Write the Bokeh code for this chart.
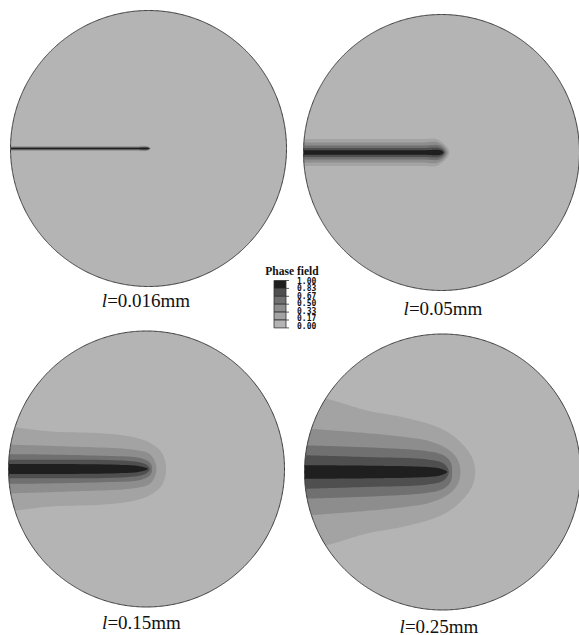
import numpy as np
from bokeh.plotting import figure
from bokeh.models import Range1d
from bokeh.embed import file_html
from bokeh.resources import INLINE
from bokeh.core.properties import value

# ---------------------------------------------------------------- data
length_scales = ["0.016", "0.05", "0.15", "0.25"]          # l in mm, one panel each
legend_ticks = ["1.00", "0.83", "0.67", "0.50", "0.33", "0.17", "0.00"]
# fill for the phase-field bands 0-0.17, 0.17-0.33, ..., 0.83-1.00
band_colors = ["#b4b4b4", "#a3a3a3", "#8d8d8d", "#707070", "#4f4f4f", "#1f1f1f"]

# Upper half of each contour (levels 0.17, 0.33, 0.50, 0.67, 0.83):
# x along the crack (unit disc radius, crack tip at x = 0), half-width h,
# and where the contour closes in front of the tip.
x_l016 = [[-1.0, -0.1, -0.010], [-1.0, -0.1, -0.008], [-1.0, -0.1, -0.006],
          [-1.0, -0.1, -0.004], [-1.0, -0.1, -0.002]]
h_l016 = [[0.018, 0.018, 0.018], [0.014, 0.014, 0.014], [0.010, 0.010, 0.010],
          [0.007, 0.007, 0.007], [0.004, 0.004, 0.004]]
tip_l016 = [0.016, 0.013, 0.011, 0.009, 0.007]

x_l005 = [[-1.0, -0.15, -0.030], [-1.0, -0.15, -0.020], [-1.0, -0.15, -0.012],
          [-1.0, -0.15, -0.008], [-1.0, -0.15, -0.006]]
h_l005 = [[0.097, 0.097, 0.095], [0.072, 0.072, 0.071], [0.050, 0.050, 0.049],
          [0.032, 0.032, 0.031], [0.016, 0.016, 0.016]]
tip_l005 = [0.058, 0.045, 0.032, 0.022, 0.014]

x_l015 = [[-1.0, -0.69, -0.331, -0.091, 0.029, 0.113],
          [-1.0, -0.571, -0.091, 0.029],
          [-1.0, -0.331, -0.043, 0.027],
          [-1.0, -0.091, 0.0],
          [-1.0, -0.211, -0.043]]
h_l015 = [[0.305, 0.271, 0.259, 0.230, 0.187, 0.115],
          [0.176, 0.163, 0.139, 0.103],
          [0.108, 0.096, 0.079, 0.043],
          [0.067, 0.055, 0.031],
          [0.036, 0.031, 0.019]]
tip_l015 = [0.142, 0.072, 0.041, 0.024, 0.009]

x_l025 = [[-1.0, -0.83, -0.542, -0.302, -0.062, 0.058, 0.153, 0.213],
          [-1.0, -0.782, -0.542, -0.302, -0.11, 0.034, 0.106],
          [-1.0, -0.782, -0.422, -0.11, 0.010, 0.058],
          [-1.0, -0.542, -0.11, 0.010],
          [-1.0, -0.542, -0.11, -0.014]]
h_l025 = [[0.560, 0.528, 0.444, 0.400, 0.336, 0.276, 0.192, 0.108],
          [0.315, 0.300, 0.281, 0.257, 0.228, 0.168, 0.096],
          [0.193, 0.187, 0.173, 0.151, 0.120, 0.072],
          [0.121, 0.108, 0.091, 0.060],
          [0.049, 0.046, 0.036, 0.024]]
tip_l025 = [0.237, 0.130, 0.070, 0.046, 0.034]

# ---------------------------------------------------------------- layout
W, H = 579, 635
RADIUS = 138.0
CAP_FS = 19          # caption font size, px
CAP_SHIFT = 7.5      # baseline correction for the caption text box
panels = [
    # centre of the disc, profiles, caption centre x, caption baseline y
    dict(cx=148.0, cy=148.0, xs=x_l016, hs=h_l016, tips=tip_l016, lx=145.5, ly=307.5),
    dict(cx=441.0, cy=152.0, xs=x_l005, hs=h_l005, tips=tip_l005, lx=442.5, ly=315.0),
    dict(cx=146.0, cy=468.5, xs=x_l015, hs=h_l015, tips=tip_l015, lx=141.0, ly=629.5),
    dict(cx=442.0, cy=471.5, xs=x_l025, hs=h_l025, tips=tip_l025, lx=438.5, ly=633.0),
]

p = figure(width=W, height=H, x_range=Range1d(0, W), y_range=Range1d(H, 0),
           x_axis_type=None, y_axis_type=None, min_border=0,
           toolbar_location=None, output_backend="svg")
p.grid.visible = False
p.outline_line_color = None
p.background_fill_color = "white"
p.border_fill_color = "white"


def cr_segment(p0, p1, p2, p3, n=14):
    """Centripetal Catmull-Rom piece between p1 and p2."""
    def knot(ti, a, b):
        return ti + max(np.hypot(*(b - a)), 1e-9) ** 0.5
    t0 = 0.0
    t1 = knot(t0, p0, p1)
    t2 = knot(t1, p1, p2)
    t3 = knot(t2, p2, p3)
    t = np.linspace(t1, t2, n, endpoint=False)[:, None]
    a1 = (t1 - t) / (t1 - t0) * p0 + (t - t0) / (t1 - t0) * p1
    a2 = (t2 - t) / (t2 - t1) * p1 + (t - t1) / (t2 - t1) * p2
    a3 = (t3 - t) / (t3 - t2) * p2 + (t - t2) / (t3 - t2) * p3
    b1 = (t2 - t) / (t2 - t0) * a1 + (t - t0) / (t2 - t0) * a2
    b2 = (t3 - t) / (t3 - t1) * a2 + (t - t1) / (t3 - t1) * a3
    return (t2 - t) / (t2 - t1) * b1 + (t - t1) / (t2 - t1) * b2


def contour_outline(xs, hs, tip, cx, cy, r):
    """Smooth closed outline of one contour: upper profile, front at the tip, lower profile."""
    upper = [(x, h) for x, h in zip(xs, hs)]
    pts = [(-1.25, hs[0])] + upper + [(tip, 0.0)] + [(x, -h) for x, h in upper[::-1]] + [(-1.25, -hs[0])]
    pts = np.array(pts, float)
    pieces = [cr_segment(pts[i - 1], pts[i], pts[i + 1], pts[i + 2]) for i in range(1, len(pts) - 2)]
    curve = np.vstack(pieces + [pts[-2][None, :]])
    return cx + r * curve[:, 0], cy - r * curve[:, 1]


theta = np.linspace(0, 2 * np.pi, 721)
for pn in panels:
    cx, cy, r = pn["cx"], pn["cy"], RADIUS
    # disc in the background colour (lowest band)
    p.patch(cx + r * np.cos(theta), cy - r * np.sin(theta),
            fill_color=band_colors[0], line_color=None)
    # bands, outermost first
    for k in range(5):
        bx, by = contour_outline(pn["xs"][k], pn["hs"][k], pn["tips"][k], cx, cy, r)
        p.patch(bx, by, fill_color=band_colors[k + 1], line_color=None)
    # white cover for whatever runs past the left rim (bands stop at x = -r)
    th = np.linspace(np.pi / 2, 3 * np.pi / 2, 361)
    m = 3.0
    mx = np.concatenate([[cx - r - m, cx], cx + r * np.cos(th), [cx, cx - r - m]])
    my = np.concatenate([[cy - r - m, cy - r - m], cy - r * np.sin(th), [cy + r + m, cy + r + m]])
    p.patch(mx, my, fill_color="white", line_color=None)
    # rim
    p.line(cx + r * np.cos(theta), cy - r * np.sin(theta), line_color="#3a3a3a", line_width=1)

# panel captions: italic l followed by the value
w_l = 0.278 * CAP_FS
for pn, ls in zip(panels, length_scales):
    rest = "=" + ls + "mm"
    w_rest = CAP_FS * (0.564 + 0.5 * sum(ch.isdigit() for ch in ls) + 0.25 + 2 * 0.778)
    x0 = pn["lx"] - (w_l + w_rest) / 2 + w_l
    y0 = pn["ly"] - CAP_SHIFT
    p.text(x=[x0], y=[y0], text=["l"], text_align="right", text_baseline="alphabetic",
           text_font=value("Liberation Serif"), text_font_style="italic",
           text_font_size=f"{CAP_FS}px", text_color="#111111")
    p.text(x=[x0], y=[y0], text=[rest], text_align="left", text_baseline="alphabetic",
           text_font=value("Liberation Serif"), text_font_size=f"{CAP_FS}px", text_color="#111111")

# ---------------------------------------------------------------- legend
box_l, box_r = 273.5, 285.5
box_top, box_step = 280.0, 7.9
n_box = len(band_colors)
tops = [box_top + i * box_step for i in range(n_box)]
bots = [t + box_step for t in tops]
p.quad(left=[box_l] * n_box, right=[box_r] * n_box, top=tops, bottom=bots,
       fill_color=list(reversed(band_colors)), line_color="#333333", line_width=0.8)
tick_y = [box_top + i * box_step for i in range(n_box + 1)]
p.segment(x0=[box_r] * len(tick_y), y0=tick_y, x1=[box_r + 3] * len(tick_y), y1=tick_y,
          line_color="#333333", line_width=0.8)
p.text(x=[291.5], y=[270.5], text=["Phase field"], text_align="center",
       text_baseline="alphabetic", text_font=value("Liberation Serif"),
       text_font_style="bold", text_font_size="11.5px", text_color="#111111")
lab_y = [279.7 + i * 7.52 for i in range(len(legend_ticks))]
p.text(x=[296.5] * len(legend_ticks), y=lab_y, text=legend_ticks, text_align="left",
       text_baseline="middle", text_font=value("DejaVu Sans Mono"),
       text_font_style="bold", text_font_size="8px", text_color="#111111")

open("out.html", "w").write(file_html(p, INLINE))
